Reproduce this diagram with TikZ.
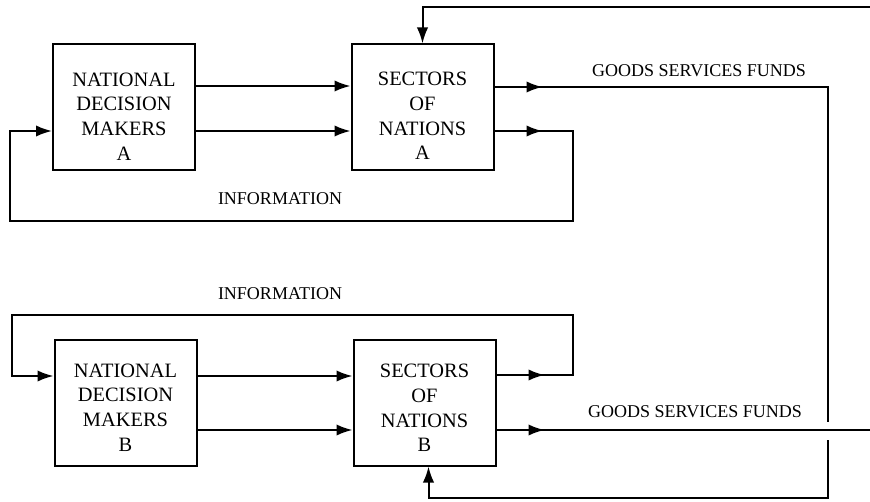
\documentclass[tikz,border=0pt]{standalone}
\usepackage{fontspec}
\setmainfont{Liberation Serif}
\usetikzlibrary{arrows.meta,decorations.markings}
\begin{document}
\begin{tikzpicture}[x=0.75pt,y=-0.75pt,
  line width=1.5pt,
  block/.style={draw, line width=1.5pt, minimum width=106.5pt, minimum height=94.5pt, inner sep=0pt},
  blocktext/.style={align=center, inner sep=0pt, font=\fontsize{15.3}{18.5}\selectfont},
  flowlabel/.style={inner sep=0pt, font=\fontsize{13.5}{16}\selectfont},
  tip/.tip={Latex[length=12pt,width=8.5pt]},
  flow/.style={-tip},
  midarrow/.style={postaction={decorate}, decoration={markings, mark=at position #1 with {\arrow{tip}}}}]
\useasboundingbox (0,0) rectangle (870,502);

% blocks of nation A
\node[block] (ndma) at (124,107.5) {};
\node[blocktext] (ndmaT) at (124,116.5) {NATIONAL\\DECISION\\MAKERS\\A};
\node[block] (sna) at (422.5,107.5) {};
\node[blocktext] (snaT) at (422.5,116) {SECTORS\\OF\\NATIONS\\A};

% blocks of nation B
\node[block] (ndmb) at (125.5,402.5) {};
\node[blocktext] (ndmbT) at (125.5,407.5) {NATIONAL\\DECISION\\MAKERS\\B};
\node[block] (snb) at (424.5,402.5) {};
\node[blocktext] (snbT) at (424.5,408) {SECTORS\\OF\\NATIONS\\B};

% free ends and the break where the flows cross
\coordinate (inA) at (870,7);
\coordinate (outB) at (870,430);
\coordinate (gapTop) at (828,422);
\coordinate (gapBot) at (828,440);

% decision makers to sectors
\draw[flow] (ndma.east |- 0,86) -- (sna.west |- 0,86);
\draw[flow] (ndma.east |- 0,131) -- (sna.west |- 0,131);
\draw[flow] (ndmb.east |- 0,376) -- (snb.west |- 0,376);
\draw[flow] (ndmb.east |- 0,430) -- (snb.west |- 0,430);

% information feedback loops
\draw[flow, midarrow=36pt] (sna.east |- 0,131) -- (573,131) |- (10,221) |- (ndma.west |- 0,131);
\draw[flow, midarrow=36pt] (snb.east |- 0,375) -- (573,375) |- (12,315) |- (ndmb.west |- 0,376);

% goods, services and funds
\draw[flow] (inA) -| (sna.north);
\draw[midarrow=36pt] (sna.east |- 0,87) -| (gapTop);
\draw[flow] (gapBot) -- (828,498) -| ([xshift=3pt]snb.south);
\draw[midarrow=36pt] (snb.east |- 0,430) -- (outB);

% labels
\node[flowlabel] (infoA) at (280,199) {INFORMATION};
\node[flowlabel] (infoB) at (280,294) {INFORMATION};
\node[flowlabel] (gsfA) at (699,71) {GOODS SERVICES FUNDS};
\node[flowlabel] (gsfB) at (695,412) {GOODS SERVICES FUNDS};
\end{tikzpicture}
\end{document}
